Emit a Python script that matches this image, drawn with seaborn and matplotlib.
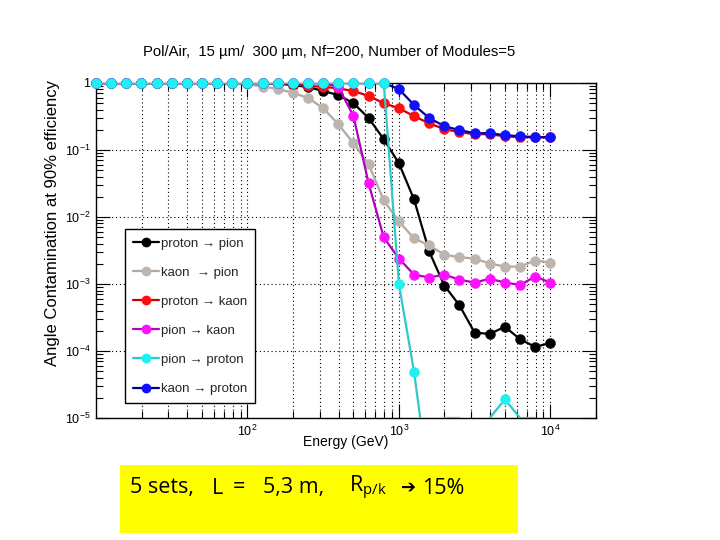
import matplotlib
matplotlib.use("Agg")
import matplotlib.pyplot as plt
import seaborn as sns
import numpy as np
import pandas as pd
from matplotlib.lines import Line2D
from matplotlib.patches import Rectangle
from matplotlib.ticker import FixedLocator, FuncFormatter, LogLocator, NullFormatter

# ---------------- data ----------------
energy = [10, 12.59, 15.85, 19.95, 25.12, 31.62, 39.81, 50.12, 63.10, 79.43,
          100, 125.9, 158.5, 199.5, 251.2, 316.2, 398.1, 501.2, 631.0, 794.3,
          1000, 1259, 1585, 1995, 2512, 3162, 3981, 5012, 6310, 7943, 10000]

proton_pion = [1, 1, 1, 1, 1, 1, 1, 1, 1, 1,
               1, 1, 0.98, 0.93, 0.87, 0.76, 0.66, 0.50, 0.30, 0.145,
               0.0634, 0.0183, 0.00306, 0.00095, 4.8e-4, 1.88e-4, 1.8e-4, 2.3e-4, 1.5e-4, 1.15e-4, 1.32e-4]
kaon_pion = [1, 1, 1, 1, 1, 1, 1, 1, 1, 1,
             0.96, 0.88, 0.82, 0.71, 0.60, 0.42, 0.243, 0.126, 0.0615, 0.0177,
             0.0086, 0.0048, 0.00376, 0.00275, 0.0025, 0.0024, 0.00202, 0.00182, 0.00182, 0.00224, 0.00209]
proton_kaon = [1, 1, 1, 1, 1, 1, 1, 1, 1, 1,
               1, 1, 1, 0.97, 0.90, 0.88, 0.83, 0.76, 0.64, 0.50,
               0.42, 0.32, 0.25, 0.205, 0.185, 0.172, 0.172, 0.16, 0.155, 0.155, 0.155]
pion_kaon = [1, 1, 1, 1, 1, 1, 1, 1, 1, 1,
             1, 1, 1, 1, 1, 1, 0.88, 0.32, 0.0318, 0.00495,
             0.0024, 0.00138, 0.00125, 0.00138, 0.00116, 0.00105, 0.0012, 0.00105, 0.00097, 0.00129, 0.00105]
pion_proton = [1, 1, 1, 1, 1, 1, 1, 1, 1, 1,
               1, 1, 1, 1, 1, 1, 1, 1, 1, 1,
               1.0e-3, 4.9e-5, 1e-6, 1e-5, 1e-5, 1e-6, 1e-5, 1.9e-5, 1e-5, 1e-5, 1e-6]
kaon_proton = [1, 1, 1, 1, 1, 1, 1, 1, 1, 1,
               1, 1, 1, 1, 1, 1, 1, 1, 1, 1,
               0.81, 0.47, 0.30, 0.227, 0.198, 0.178, 0.178, 0.166, 0.161, 0.155, 0.155]

labels = ["proton \u2192 pion", "kaon  \u2192 pion", "proton \u2192 kaon",
          "pion \u2192 kaon", "pion \u2192 proton", "kaon \u2192 proton"]
series = [proton_pion, kaon_pion, proton_kaon, pion_kaon, pion_proton, kaon_proton]
marker_colors = ["#000000", "#bdb5ae", "#ff1010", "#ff10ff", "#20f0f0", "#1010ff"]
line_colors = ["#000000", "#b0a8a2", "#cc0000", "#b000c0", "#30c8c8", "#00008c"]
zorders = [3, 3.1, 3.2, 3.3, 3.5, 3.4]

title = "Pol/Air,  15 \u00b5m/  300 \u00b5m, Nf=200, Number of Modules=5"
xlabel = "Energy (GeV)"
ylabel = "Angle Contamination at 90% efficiency"
note_parts = ["5 sets,", "L", "=", "5,3 m,", "R$_{\\mathregular{p/k}}$", "\u2794", "15%"]
note_x = [130, 212, 233, 263, 349, 401, 422]

# ---------------- style ----------------
sns.set_theme(style="ticks")
plt.rcParams["font.family"] = ["Liberation Sans", "DejaVu Sans"]
plt.rcParams["mathtext.fontset"] = "custom"
plt.rcParams["mathtext.rm"] = "Liberation Sans"
plt.rcParams["mathtext.it"] = "Liberation Sans:italic"

fig = plt.figure(figsize=(7.2, 5.4), dpi=100)
fig.patch.set_facecolor("white")
ax = fig.add_axes([0.1333, 0.2259, 0.6944, 0.6204])
ax.set_facecolor("white")

ymin = 1e-5
for vals, mc, lc, zo in zip(series, marker_colors, line_colors, zorders):
    df = pd.DataFrame({"E": energy, "v": vals})
    sns.lineplot(data=df, x="E", y="v", ax=ax, color=lc, lw=1.6, zorder=zo,
                 legend=False, estimator=None, sort=False)
    shown = df[df["v"] > ymin * 1.0001]
    sns.scatterplot(data=shown, x="E", y="v", ax=ax, color=mc, s=52,
                    edgecolor=mc, linewidth=0.3, zorder=zo + 0.05,
                    legend=False, clip_on=False)

ax.set_xscale("log")
ax.set_yscale("log")
ax.set_xlim(10, 20000)
ax.set_ylim(1e-5, 1)

ax.xaxis.set_major_locator(FixedLocator([100, 1000, 10000]))
ax.xaxis.set_minor_locator(FixedLocator(
    [m * d for d in (10, 100, 1000) for m in range(2, 10)] + [20000]))
ax.xaxis.set_major_formatter(FuncFormatter(
    lambda v, p: r"$\mathregular{10^{%d}}$" % round(np.log10(v))))
ax.xaxis.set_minor_formatter(NullFormatter())

ax.yaxis.set_major_locator(FixedLocator([1e-5, 1e-4, 1e-3, 1e-2, 1e-1, 1]))
ax.yaxis.set_minor_locator(LogLocator(base=10, subs=range(2, 10), numticks=20))
ax.yaxis.set_major_formatter(FuncFormatter(
    lambda v, p: "1" if abs(v - 1) < 1e-9 else r"$\mathregular{10^{%d}}$" % round(np.log10(v))))
ax.yaxis.set_minor_formatter(NullFormatter())

ax.tick_params(which="both", direction="in", top=True, right=True,
               colors="black", labelsize=9, width=0.8)
ax.tick_params(which="major", length=10, pad=4)
ax.tick_params(which="minor", length=5)

ax.grid(True, which="both", axis="x", color="black", lw=0.8, ls=(0, (1, 2.5)))
ax.grid(True, which="major", axis="y", color="black", lw=0.8, ls=(0, (1, 2.5)))
ax.set_axisbelow(True)
for s in ax.spines.values():
    s.set_color("black")
    s.set_linewidth(1.0)
    s.set_zorder(2.5)

fig.text(329 / 720, 1 - 52 / 540, title, fontsize=10.7, color="black",
         ha="center", va="center")
ax.set_xlabel(xlabel, fontsize=10, color="black", labelpad=-3)
ax.set_ylabel(ylabel, fontsize=12, color="black", loc="top")
ax.yaxis.set_label_coords(-0.072, 1.01)

handles = [Line2D([0], [0], color=lc, lw=1.6, marker="o", markersize=6,
                  markerfacecolor=mc, markeredgecolor=mc)
           for mc, lc in zip(marker_colors, line_colors)]
leg = ax.legend(handles, labels, loc="upper left", bbox_to_anchor=(0.058, 0.563),
                frameon=True, fancybox=False, framealpha=1, edgecolor="black",
                fontsize=9.5, labelspacing=1.28, handlelength=2.0, handletextpad=0.15,
                borderpad=0.6, borderaxespad=0)
leg.get_frame().set_linewidth(1.0)
leg.set_zorder(10)

# yellow annotation box below the chart
fig.add_artist(Rectangle((120 / 720, 1 - 533 / 540), (518 - 120) / 720, 68 / 540,
                         transform=fig.transFigure, facecolor="#ffff00",
                         edgecolor="none", zorder=0))
ty = 1 - 488 / 540
for part, px in zip(note_parts, note_x):
    fam = ["DejaVu Sans"] if part == "\u2794" else ["Open Sans", "DejaVu Sans"]
    fs = 13 if part == "\u2794" else 15.5
    fig.text(px / 720, ty, part, fontsize=fs, color="black", va="center",
             ha="left", family=fam)

fig.savefig("out.png", dpi=100)
